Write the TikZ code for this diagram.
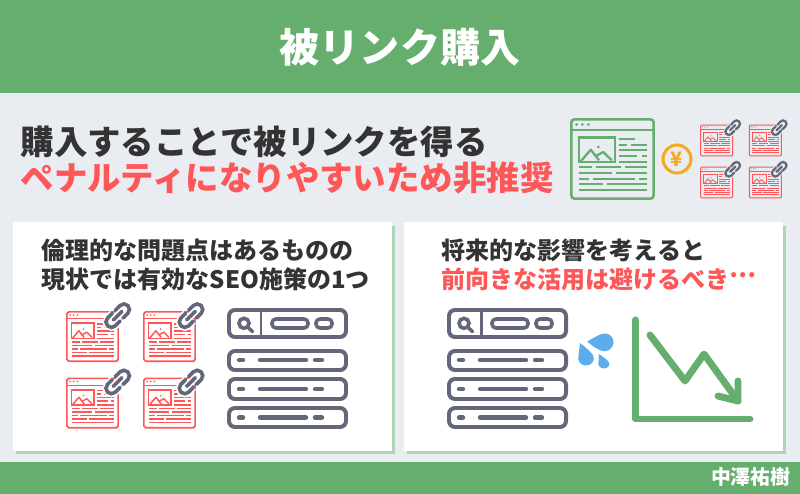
\documentclass[tikz,border=0pt]{standalone}
\usepackage{fontspec}
\setmainfont{Noto Sans CJK JP}
\definecolor{leaf}{HTML}{66AE6E}
\definecolor{leafpale}{HTML}{B0D3B5}
\definecolor{mist}{HTML}{E9ECF1}
\definecolor{coral}{HTML}{FF5757}
\definecolor{slate}{HTML}{64667A}
\definecolor{ink}{HTML}{333333}
\definecolor{amber}{HTML}{F5A91B}
\definecolor{drop}{HTML}{5BADEE}
\tikzset{
  pics/webpage/.style 2 args={code={
    \draw [#1,line width=#2*1.1pt,rounded corners=#2*1.2pt] (1.45,1.45) rectangle (83.55,80.55);
    \draw [#1,line width=#2*.9pt] (1.45,12.3) -- (83.55,12.3);
    \fill [#1] (6.7,6.5) circle (1.5) (12.3,6.5) circle (1.5) (18.3,6.5) circle (1.5);
    \draw [#1,line width=#2*1.1pt] (9,19.7) rectangle (45,44);
    \draw [#1,line width=#2pt,line join=round] (10.7,43.3) -- (20.7,31.7) -- (29,42.3);
    \draw [#1,line width=#2pt,line join=round] (26,38) -- (33.3,34) -- (41.7,42.3);
    \fill [#1] (28.3,29) circle (1.5);
    \foreach \xa/\xb/\yy in {49.3/65/20.7,49.3/56.7/26.7,60.7/76.7/26.7,49.3/76.7/32,49.3/67.3/38,72.3/76.7/38,
      49.3/76.7/43.7,9/22.3/49.3,26/50.7/49.3,55/76.7/49.3,9/42.3/55,46/76.7/55,9/19.3/60.7,23/65/60.7,69.3/76.7/60.7,
      9/33.3/66.3,37.3/76.7/66.3,9/76.7/72}
      \draw [#1,line width=#2pt] (\xa,\yy) -- (\xb,\yy);
  }},
  pics/weblink/.style 2 args={code={
    \begin{scope}[rotate=45,rounded corners=#1*5.4pt]
      \draw [#2,line width=#1*7pt] (-2,-5.5) -- (-14.3,-5.5) -- (-14.3,5.5) -- (-2,5.5);
      \draw [#2,line width=#1*7pt] (2,-5.5) -- (14.3,-5.5) -- (14.3,5.5) -- (2,5.5);
      \draw [#2,line width=#1*7pt] (-6,0) -- (6,0);
      \draw [slate,line width=#1*3.6pt,line cap=round] (-2,-5.5) -- (-14.3,-5.5) -- (-14.3,5.5) -- (-2,5.5);
      \draw [slate,line width=#1*3.6pt,line cap=round] (2,-5.5) -- (14.3,-5.5) -- (14.3,5.5) -- (2,5.5);
      \draw [slate,line width=#1*3.6pt,line cap=round] (-6,0) -- (6,0);
    \end{scope}
  }},
  pics/serplist/.style={code={
    \begin{scope}[slate,line width=4pt,rounded corners=6pt]
      \draw (2,2) rectangle (119,29);
      \draw (2,43) rectangle (119,62);
      \draw (2,71) rectangle (119,91);
      \draw (2,100) rectangle (119,119);
    \end{scope}
    \draw [slate,line width=3pt] (34,2) -- (34,29);
    \draw [slate,line width=3.6pt] (17,15.3) circle (5);
    \draw [slate,line width=3.6pt,line cap=round] (21,19.5) -- (25.5,23.5);
    \draw [slate,line width=3.6pt,rounded corners=4pt] (45,11) rectangle (81,20);
    \draw [slate,line width=3.6pt,rounded corners=4pt] (89,11) rectangle (105,20);
    \foreach \yy in {52,81,109.5} {
      \draw [slate,line width=4.4pt,line cap=round] (12,\yy) -- (16,\yy);
      \draw [slate,line width=4.4pt,line cap=round] (33,\yy) -- (79,\yy);
      \draw [slate,line width=4.4pt,line cap=round] (88,\yy) -- (95,\yy);
    }
  }}
}
\begin{document}
\begin{tikzpicture}[x=1bp,y=-1bp]
\tikzstyle{banner} = [text=white,font=\fontsize{40.2}{40}\selectfont\bfseries];
\tikzstyle{headline} = [anchor=west,inner sep=0,font=\fontsize{33.55}{33}\selectfont\bfseries];
\tikzstyle{paneltext} = [anchor=west,inner sep=0,font=\fontsize{24.1}{24}\selectfont\bfseries];

\useasboundingbox (0,0) rectangle (800,494);
\fill [mist] (0,0) rectangle (800,494);
\fill [leaf] (0,0) rectangle (800,93);
\fill [leaf] (0,462) rectangle (800,494);

\node [banner] (v1) at (400,47) {被リンク購入};
\node [anchor=east,inner sep=0,text=white,font=\fontsize{19.9}{20}\selectfont\bfseries] (v2) at (790.5,477) {中澤祐樹};

\node [headline,text=ink] (v3) at (20.5,142) {購入することで被リンクを得る};
\node [headline,text=coral] (v4) at (20.5,178) {ペナルティになりやすいため非推奨};

% panels
\fill [leafpale] (16,226) rectangle (395,454);
\fill [leafpale] (407,226) rectangle (786,454);
\fill [white] (12.7,222) rectangle (391.7,451);
\fill [white] (404,222) rectangle (783,451);

\node [paneltext,text=ink] (v5) at (41.5,250) {倫理的な問題点はあるものの};
\node [paneltext,text=ink] (v6) at (41.5,279) {現状では有効なSEO施策の1つ};
\node [paneltext,text=ink] (v7) at (441.5,250) {将来的な影響を考えると};
\node [paneltext,text=coral] (v8) at (441.5,279) {前向きな活用は避けるべき\raisebox{.42em}{…}};

% top icons
\pic [scale=1] at (570,118) {webpage={leaf}{2.3}};
\draw [amber,line width=3pt] (677,159) circle (14);
\node [inner sep=0,text=amber,font=\fontsize{20}{20}\selectfont\bfseries] (v9) at (677,159) {¥};
\pic [scale=.39] at (700,124.5) {webpage={coral}{.9}};
\pic [scale=.39] at (748.7,124.5) {webpage={coral}{.9}};
\pic [scale=.39] at (700,166.5) {webpage={coral}{.9}};
\pic [scale=.39] at (748.7,166.5) {webpage={coral}{.9}};
\pic [scale=.62] at (732.7,127.7) {weblink={.62}{mist}};
\pic [scale=.62] at (779.2,127.7) {weblink={.62}{mist}};
\pic [scale=.62] at (732.7,169.3) {weblink={.62}{mist}};
\pic [scale=.62] at (779.2,169.3) {weblink={.62}{mist}};

% left panel
\pic [scale=.624] at (66,311) {webpage={coral}{1.5}};
\pic [scale=.624] at (143,311) {webpage={coral}{1.5}};
\pic [scale=.624] at (66,377.5) {webpage={coral}{1.5}};
\pic [scale=.624] at (143,377.5) {webpage={coral}{1.5}};
\pic at (117.7,315.7) {weblink={1}{white}};
\pic at (191,315.7) {weblink={1}{white}};
\pic at (117.7,382) {weblink={1}{white}};
\pic at (191,382) {weblink={1}{white}};
\pic at (227,308) {serplist};

% right panel
\pic at (447,308) {serplist};
\fill [drop] (587.3,341.5) .. controls (595,337) and (600,334) .. (604,333.5) .. controls (610,333) and (614,338) .. (613.5,343) .. controls (613,349) and (607,352) .. (603,351) .. controls (598,350) and (592,346) .. cycle;
\fill [drop] (580,343) .. controls (585,347) and (591,352) .. (593,355) .. controls (596,361) and (591,365.5) .. (586,365.5) .. controls (581,365.5) and (577,361) .. (578.5,356) -- cycle;
\fill [drop] (598.5,354) .. controls (602,356) and (606,359) .. (608,361) .. controls (611,365) and (608,368.5) .. (604,368.5) .. controls (600,368.5) and (597.5,365) .. (598.5,362) -- cycle;
\draw [leaf,line width=7pt,line cap=round,line join=round] (635.5,320) -- (635.5,419) -- (750,419);
\draw [leaf,line width=7pt,line cap=round,line join=round] (650,335) -- (685,381) -- (704,354) -- (738,401);
\draw [leaf,line width=7pt,line cap=round,line join=round] (738,381) -- (738,401) -- (718,396);
\end{tikzpicture}
\end{document}
